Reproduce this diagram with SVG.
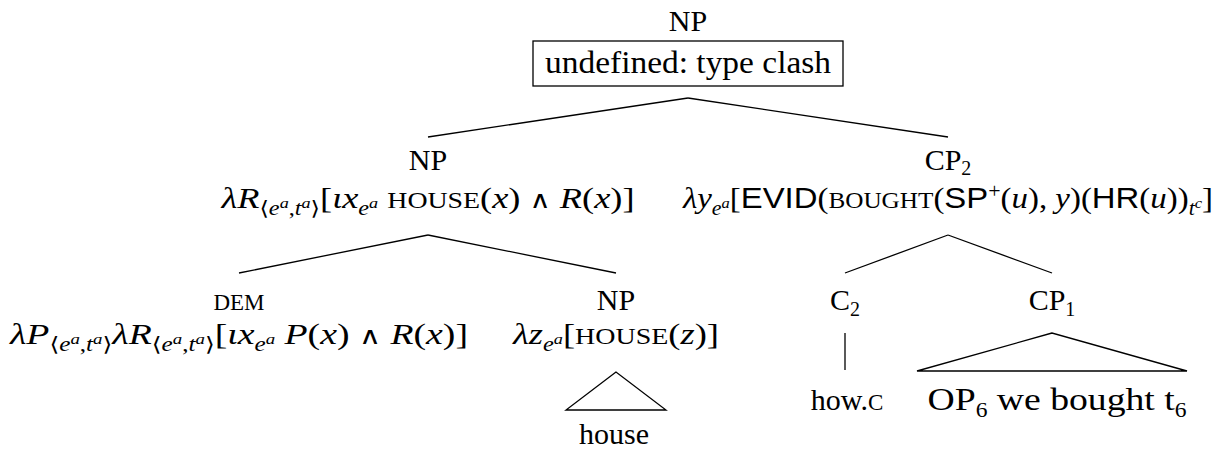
<svg xmlns="http://www.w3.org/2000/svg" width="1226" height="452" viewBox="0 0 1226 452">
<style>
text{font-family:"Liberation Serif","DejaVu Serif",serif;font-size:30px;fill:#000;text-anchor:middle}
.i{font-style:italic}
.s{font-size:20px}
.ss{font-size:15px}
.sc{font-size:23px}
.big{font-size:32px}
.sf{font-family:"Liberation Sans","DejaVu Sans",sans-serif}
.op{font-family:"DejaVu Serif",serif;font-size:24px}
.e{stroke:#000;stroke-width:1.3;fill:none}
</style>
<rect width="1226" height="452" fill="#fff"/>
<g id="connectors">
<line class="e" x1="688" y1="98" x2="428" y2="137"/>
<line class="e" x1="688" y1="98" x2="948" y2="137"/>
<line class="e" x1="428" y1="235" x2="239" y2="273"/>
<line class="e" x1="428" y1="235" x2="616" y2="273"/>
<line class="e" x1="948" y1="235" x2="845" y2="273"/>
<line class="e" x1="948" y1="235" x2="1052" y2="273"/>
<line class="e" x1="845" y1="333" x2="845" y2="370"/>
<polygon class="e" points="1052,333 917,371 1187,371"/>
<polygon class="e" points="616,372 566,410 666,410"/>
</g>
<g id="root">
<text x="688" y="31">NP</text>
<rect class="e" x="533" y="41" width="310" height="45"/>
<text x="688" y="73" class="big" textLength="286" lengthAdjust="spacingAndGlyphs">undefined: type clash</text>
</g>
<g id="np-left">
<text x="428" y="170">NP</text>
<text x="428" y="208" textLength="413" lengthAdjust="spacingAndGlyphs"><tspan class="i">λR</tspan><tspan class="s" dy="7">⟨</tspan><tspan class="s i">e</tspan><tspan class="ss i" dy="-7">a</tspan><tspan class="s" dy="7">,</tspan><tspan class="s i">t</tspan><tspan class="ss i" dy="-7">a</tspan><tspan class="s" dy="7">⟩</tspan><tspan dy="-7">[</tspan><tspan class="i">ιx</tspan><tspan class="s i" dy="7">e</tspan><tspan class="ss i" dy="-7">a</tspan><tspan dy="0"> </tspan><tspan class="sc">HOUSE</tspan>(<tspan class="i">x</tspan>) <tspan class="op">∧</tspan> <tspan class="i">R</tspan>(<tspan class="i">x</tspan>)]</text>
</g>
<g id="cp2">
<text x="948" y="170">CP<tspan class="s" dy="5">2</tspan></text>
<text x="948" y="208" textLength="530" lengthAdjust="spacingAndGlyphs"><tspan class="i">λy</tspan><tspan class="s i" dy="7">e</tspan><tspan class="ss i" dy="-7">a</tspan><tspan dy="0">[</tspan><tspan class="sf">EVID</tspan>(<tspan class="sc">BOUGHT</tspan>(<tspan class="sf">SP</tspan><tspan class="s" dy="-10">+</tspan><tspan dy="10">(</tspan><tspan class="i">u</tspan>), <tspan class="i">y</tspan>)(<tspan class="sf">HR</tspan>(<tspan class="i">u</tspan>))<tspan class="s i" dy="7">t</tspan><tspan class="ss i" dy="-7">c</tspan><tspan dy="0">]</tspan></text>
</g>
<g id="dem">
<text x="239" y="310" class="sc">DEM</text>
<text x="239" y="344" textLength="458" lengthAdjust="spacingAndGlyphs"><tspan class="i">λP</tspan><tspan class="s" dy="7">⟨</tspan><tspan class="s i">e</tspan><tspan class="ss i" dy="-7">a</tspan><tspan class="s" dy="7">,</tspan><tspan class="s i">t</tspan><tspan class="ss i" dy="-7">a</tspan><tspan class="s" dy="7">⟩</tspan><tspan class="i" dy="-7">λR</tspan><tspan class="s" dy="7">⟨</tspan><tspan class="s i">e</tspan><tspan class="ss i" dy="-7">a</tspan><tspan class="s" dy="7">,</tspan><tspan class="s i">t</tspan><tspan class="ss i" dy="-7">a</tspan><tspan class="s" dy="7">⟩</tspan><tspan dy="-7">[</tspan><tspan class="i">ιx</tspan><tspan class="s i" dy="7">e</tspan><tspan class="ss i" dy="-7">a</tspan><tspan dy="0"> </tspan><tspan class="i">P</tspan>(<tspan class="i">x</tspan>) <tspan class="op">∧</tspan> <tspan class="i">R</tspan>(<tspan class="i">x</tspan>)]</text>
</g>
<g id="np-right">
<text x="616" y="310">NP</text>
<text x="616" y="344" textLength="206" lengthAdjust="spacingAndGlyphs"><tspan class="i">λz</tspan><tspan class="s i" dy="7">e</tspan><tspan class="ss i" dy="-7">a</tspan><tspan dy="0">[</tspan><tspan class="sc">HOUSE</tspan>(<tspan class="i">z</tspan>)]</text>
</g>
<g id="house">
<text x="614" y="444">house</text>
</g>
<g id="c2">
<text x="845" y="310">C<tspan class="s" dy="6">2</tspan></text>
</g>
<g id="howc">
<text x="847" y="410">how.<tspan class="sc">C</tspan></text>
</g>
<g id="cp1">
<text x="1052" y="310">CP<tspan class="s" dy="6">1</tspan></text>
</g>
<g id="op6">
<text x="1057" y="410" class="big" textLength="259" lengthAdjust="spacingAndGlyphs">OP<tspan class="s" dy="7">6</tspan><tspan dy="-7"> we bought t</tspan><tspan class="s" dy="7">6</tspan></text>
</g>
</svg>
